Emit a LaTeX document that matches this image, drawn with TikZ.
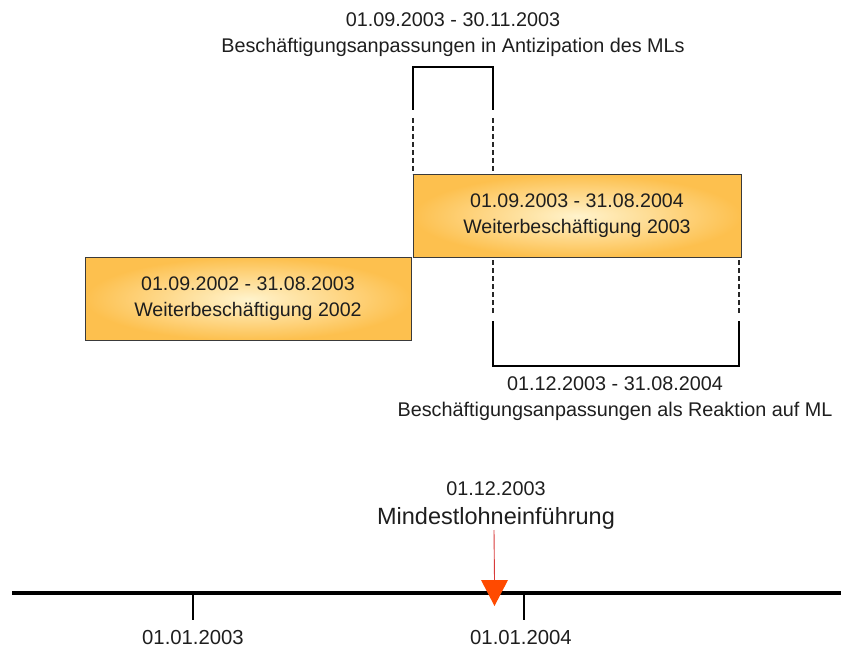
\documentclass[tikz,border=0pt]{standalone}
\usepackage{fontspec}
\setmainfont{Liberation Sans}
\definecolor{boxout}{HTML}{FDC04E}
\definecolor{boxin}{HTML}{FFF3CC}
\definecolor{boxedge}{HTML}{3A3A3A}
\definecolor{txt}{HTML}{1E1E1E}
\definecolor{mlred}{HTML}{FF4A00}
\definecolor{mlline}{HTML}{D83A3A}
\tikzset{
  periodbox/.style={draw=boxedge, line width=1pt, inner color=boxin, outer color=boxout,
    minimum width=#1, minimum height=83pt, align=center, inner sep=0pt,
    font=\fontsize{19.6}{26}\selectfont, text=txt},
  lbl/.style={align=center, inner sep=0pt, font=\fontsize{19.8}{26}\selectfont, text=txt},
  bracket/.style={line width=2pt, black},
  guide/.style={line width=1.2pt, dashed, dash pattern=on 5pt off 3pt, black!85},
  tick/.style={line width=1.2pt, black},
}
\begin{document}
\begin{tikzpicture}[x=1pt,y=-1pt]
\useasboundingbox (0,0) rectangle (841,650);
% boxes
\node[periodbox=326pt] (b02) at (248,299) {01.09.2002 - 31.08.2003\\Weiterbeschäftigung 2002};
\node[periodbox=328pt] (b03) at (577,216) {01.09.2003 - 31.08.2004\\Weiterbeschäftigung 2003};
% top bracket
\coordinate (tA) at (413,67);
\coordinate (tB) at (493,67);
\coordinate (tA1) at (413,110);
\coordinate (tB1) at (493,110);
\coordinate (tA2) at (413,118);
\coordinate (tB2) at (493,118);
\coordinate (tA3) at (413,174);
\coordinate (tB3) at (493,174);
\draw[bracket] (tA1) -- (tA) -- (tB) -- (tB1);
\draw[guide] (tA2) -- (tA3);
\draw[guide] (tB2) -- (tB3);
\node[lbl] (toplbl) at (453,35) {01.09.2003 - 30.11.2003\\Beschäftigungsanpassungen in Antizipation des MLs};
% bottom bracket
\coordinate (bA) at (493,366);
\coordinate (bB) at (739,366);
\coordinate (bA1) at (493,321);
\coordinate (bB1) at (739,321);
\coordinate (bA2) at (493,313);
\coordinate (bB2) at (739,313);
\coordinate (bA3) at (493,259);
\coordinate (bB3) at (739,259);
\draw[bracket] (bA1) -- (bA) -- (bB) -- (bB1);
\draw[guide] (bA2) -- (bA3);
\draw[guide] (bB2) -- (bB3);
\node[lbl] (botlbl) at (615,399) {01.12.2003 - 31.08.2004\\Beschäftigungsanpassungen als Reaktion auf ML};
% timeline
\coordinate (tlL) at (12,593);
\coordinate (tlR) at (841,593);
\draw[line width=4.5pt, black] (tlL) -- (tlR);
\coordinate (t03) at (193,593);
\coordinate (t03b) at (193,620);
\coordinate (t04) at (524,593);
\coordinate (t04b) at (524,620);
\draw[tick] (t03) -- (t03b);
\draw[tick] (t04) -- (t04b);
\node[lbl, font=\fontsize{20.3}{24}\selectfont] (l03) at (193,638) {01.01.2003};
\node[lbl, font=\fontsize{20.3}{24}\selectfont] (l04) at (521,638) {01.01.2004};
% minimum wage marker
\node[lbl, font=\fontsize{19.8}{24}\selectfont] (mldate) at (496,489) {01.12.2003};
\node[lbl, font=\fontsize{23.5}{28}\selectfont] (mlname) at (496,518) {Mindestlohneinführung};
\coordinate (arTop) at (494,530);
\coordinate (triL) at (481,580);
\coordinate (triR) at (508,580);
\coordinate (triM) at (494.5,580);
\coordinate (triTip) at (494.5,606);
\draw[mlline, line width=0.9pt] (arTop) -- (triM);
\fill[mlred] (triL) -- (triR) -- (triTip) -- cycle;
\end{tikzpicture}
\end{document}
